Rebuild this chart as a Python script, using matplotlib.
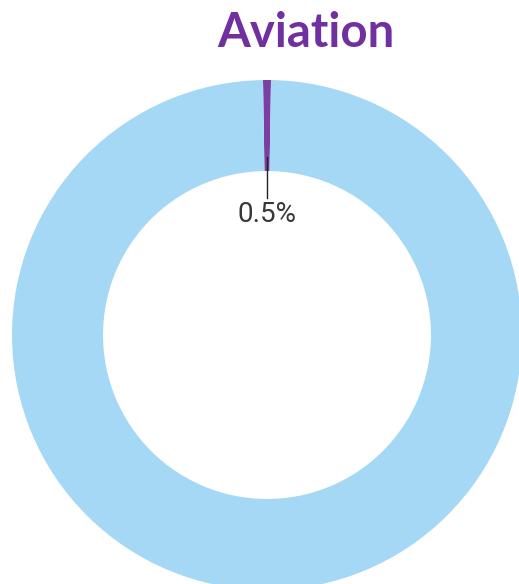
import matplotlib.pyplot as plt

labels = ["Aviation", "Other"]
shares = [0.5, 99.5]
colors = ["#7B3FA3", "#A5D8F4"]
title = "Aviation"

W, H = 519, 584
cx, cy, r = 267, 335, 255

fig = plt.figure(figsize=(W / 100, H / 100), dpi=100)
ax = fig.add_axes([0, 0, 1, 1])

ax.pie(shares, colors=colors, startangle=90 + 0.9 * shares[0] / 0.5, counterclock=False,
       radius=1.0, wedgeprops=dict(width=0.357, linewidth=0))

# leader line and label
ax.plot([0, 0], [(cy - 157) / r, (cy - 198) / r], color="#222222", lw=1.0)
ax.text(0, (cy - 214) / r, f"{shares[0]}%", ha="center", va="center",
        fontsize=20, color="#383838", family="Roboto")

ax.set_xlim(-cx / r, (W - cx) / r)
ax.set_ylim((cy - H) / r, cy / r)
ax.set_aspect("auto")
ax.axis("off")

fig.text(306 / W, 1 - 47 / H, title, ha="center", va="baseline", fontsize=34,
         fontweight="bold", color="#7030A0", family="Lato")

fig.savefig("out.png", dpi=100)
